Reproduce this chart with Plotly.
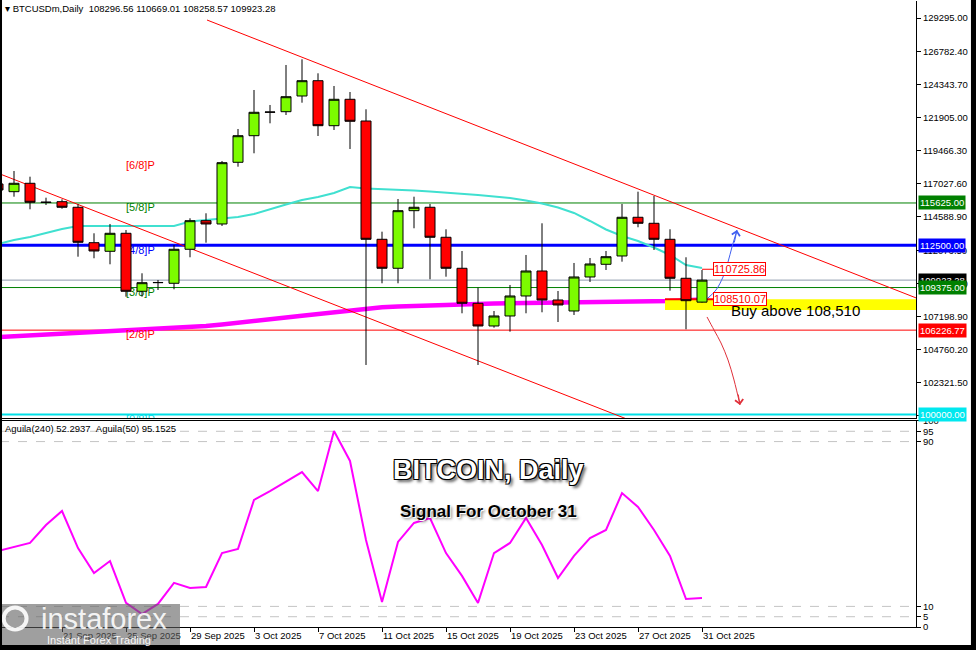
import plotly.graph_objects as go
import pandas as pd

# ---------------- data ----------------
dates = pd.date_range("2025-09-17", "2025-10-31", freq="D")

open_ = [117028, 116459, 117079, 115697, 115720, 115306, 112690, 112054, 113384, 109098,
         109734, 109689, 112202, 114316, 114072, 118631, 120597, 122348, 122371, 123531,
         124662, 121336, 123287, 121683, 112941, 110798, 115055, 115306, 113089, 110798,
         108211, 106534, 107273, 108751, 110598, 108455, 107642, 110155, 111093, 111707,
         114567, 114123, 112941, 110059, 108296.56]
high = [117323, 117988, 117567, 116015, 115897, 115527, 113384, 114072, 113628, 110428,
        109933, 112520, 114493, 114862, 118727, 121092, 123974, 122866, 125822, 126243,
        125208, 124270, 123826, 122548, 113503, 115919, 116089, 115550, 113680, 112076,
        109364, 107642, 109564, 111781, 114123, 109120, 111190, 111559, 112076, 115550,
        116459, 116141, 113680, 111611, 110669.01]
low = [116363, 116089, 115158, 115476, 115202, 111655, 111537, 111093, 108699, 108699,
       109194, 109246, 111611, 112690, 113924, 118306, 119296, 121513, 122127, 123036,
       120575, 121018, 119614, 103652, 109689, 109689, 113754, 109985, 110177, 107472,
       103652, 106408, 106113, 107472, 107546, 106829, 107347, 109785, 110672, 111286,
       113828, 112150, 109143, 106290, 108258.57]
close = [116584, 117079, 115675, 115660, 115306, 112719, 112076, 113384, 109098, 109734,
         109748, 112202, 114316, 114072, 118602, 120597, 122326, 122334, 123479, 124662,
         121336, 123287, 121661, 112941, 110798, 115055, 115306, 113089, 110798, 108211,
         106534, 107273, 108751, 110598, 108455, 108086, 110155, 111116, 111655, 114567,
         114123, 112941, 110059, 108404, 109923.28]

ma_fast = [112594, 112889, 113111, 113407, 113702, 113924, 113924, 113924, 113924, 113887,
           113887, 113924, 114256, 114367, 114441, 114589, 114811, 115180, 115513, 115845,
           116067, 116363, 116806, 116695, 116658, 116584, 116547, 116473, 116399, 116326,
           116215, 116104, 115993, 115808, 115587, 115291, 114885, 114293, 113665, 113185,
           112815, 112335, 111781, 111042, 110820]
ma_slow = [105714, 105773, 105832, 105891, 105950, 106009, 106068, 106127, 106187, 106246,
           106305, 106364, 106423, 106534, 106645, 106756, 106889, 107022, 107155, 107288,
           107421, 107554, 107701, 107849, 107923, 107982, 108034, 108078, 108115, 108145,
           108167, 108189, 108204, 108211, 108219, 108226, 108234, 108248, 108263, 108285,
           108307, 108344, 108389, 108440, 108492]
aguila = [36.9, 38.8, 40.8, 49.5, 56.3, 38.3, 26.2, 32.0, 11.7, 6.3,
          11.2, 21.4, 18.9, 19.4, 35.9, 37.9, 61.7, 66.0, 70.4, 75.2,
          66.0, 95.1, 80.6, 42.2, 12.1, 41.3, 50.5, 52.9, 35.9, 24.8,
          11.7, 35.9, 40.8, 52.9, 39.8, 23.8, 34.5, 43.2, 47.1, 65.0,
          58.3, 47.1, 34.5, 13.6, 14.1]

level_prices = [115625.00, 112500.00, 109923.28, 109375.00, 106226.77, 100000.00]
murrey_levels = [118750, 115625, 112500, 109375, 106250, 100000]
murrey_names = ["[6/8]P", "[5/8]P", "[4/8]P", "[3/8]P", "[2/8]P", "[0/8]P"]
murrey_date = "2025-09-25"

price_ticks = [129295.00, 126782.40, 124343.70, 121905.00, 119466.30, 117027.60, 114588.90,
               112076.50, 109637.80, 107198.90, 104760.20, 102321.50, 99882.80]
osc_ticks = [100, 95, 90, 10, 5, 0]
osc_dashes = [95, 90, 10, 5]

upper_trend_x = ["2025-09-30 01:30", "2025-11-13 09:00"]
upper_trend_y = [129147, 108610]
lower_trend_x = ["2025-09-17 03:00", "2025-10-27 03:00"]
lower_trend_y = [117767, 99277]

buy_zone_x = ["2025-10-28 16:30", "2025-11-14 00:00"]
buy_zone_y = [108510.07, 107716]
marked_prices = [110725.86, 108510.07]
marked_from = ["2025-10-31 00:00", "2025-10-28 16:30"]
marked_to = "2025-10-31 16:30"
buy_text = "Buy above 108,510"
buy_text_pos = ("2025-11-01 16:30", 107642)

up_arrow_x = ["2025-10-31 09:00", "2025-10-31 21:00", "2025-11-01 07:30",
              "2025-11-01 15:00", "2025-11-01 21:00", "2025-11-02 04:30"]
up_arrow_y = [108603, 109194, 110155, 111264, 112372, 113628]
down_arrow_x = ["2025-10-31 07:30", "2025-10-31 18:00", "2025-11-01 04:30",
                "2025-11-01 15:00", "2025-11-02 00:00", "2025-11-02 09:00"]
down_arrow_y = [107199, 106238, 105277, 104021, 102543, 100695]

x_range = ["2025-09-17 03:00", "2025-11-13 09:00"]
y_range = [99735, 130551]

header = "\u25be BTCUSDm,Daily\u00a0\u00a0108296.56 110669.01 108258.57 109923.28"
osc_header = "Aguila(240) 52.2937\u00a0\u00a0Aguila(50) 95.1525"

# ---------------- styles ----------------
FONT = "Liberation Sans"
level_colors = ["#008000", "#0000ff", "#8e9aae", "#008000", "#ff0000", "#00e0e8"]
level_widths = [1, 3, 1, 1, 1, 2]
label_bgs = ["#008000", "#0000ff", "#000000", "#008000", "#ff0000", "#00e8ef"]
murrey_colors = ["#ff0000", "#008000", "#0000ff", "#008000", "#ff0000", "#00e0e8"]

fig = go.Figure()

# base subplot (under candles)
fig.add_trace(go.Scatter(x=dates, y=ma_fast, mode="lines", line=dict(color="#40e0d0", width=2),
                         hoverinfo="skip", xaxis="x", yaxis="y"))
fig.add_trace(go.Scatter(x=dates, y=ma_slow, mode="lines", line=dict(color="#ff00ff", width=4.5),
                         hoverinfo="skip", xaxis="x", yaxis="y"))
fig.add_trace(go.Scatter(x=upper_trend_x, y=upper_trend_y, mode="lines",
                         line=dict(color="#ff0000", width=1), hoverinfo="skip", xaxis="x", yaxis="y"))
fig.add_trace(go.Scatter(x=lower_trend_x, y=lower_trend_y, mode="lines",
                         line=dict(color="#ff0000", width=1), hoverinfo="skip", xaxis="x", yaxis="y"))
fig.add_trace(go.Scatter(x=[murrey_date] * len(murrey_levels), y=murrey_levels, mode="text",
                         text=murrey_names, textposition="bottom right",
                         textfont=dict(family=FONT, size=11, color=murrey_colors),
                         hoverinfo="skip", xaxis="x", yaxis="y"))
fig.add_trace(go.Scatter(x=[buy_zone_x[0], buy_zone_x[1], buy_zone_x[1], buy_zone_x[0]],
                         y=[buy_zone_y[0], buy_zone_y[0], buy_zone_y[1], buy_zone_y[1]],
                         fill="toself", fillcolor="#ffff00", mode="lines", line=dict(width=0),
                         hoverinfo="skip", xaxis="x", yaxis="y"))
for p, x0, w in zip(marked_prices, marked_from, [1, 2]):
    fig.add_trace(go.Scatter(x=[x0, marked_to], y=[p, p], mode="lines",
                             line=dict(color="#ff0000", width=w), hoverinfo="skip",
                             xaxis="x", yaxis="y"))

# overlay subplot (candles and arrows on top)
fig.add_trace(go.Candlestick(
    x=dates, open=open_, high=high, low=low, close=close,
    increasing=dict(line=dict(color="#000000", width=1), fillcolor="#7cfc00"),
    decreasing=dict(line=dict(color="#000000", width=1), fillcolor="#ff0000"),
    whiskerwidth=0, hoverinfo="skip", xaxis="x3", yaxis="y3"))
fig.add_trace(go.Scatter(x=up_arrow_x, y=up_arrow_y, mode="lines",
                         line=dict(color="#3f5ff0", width=1, shape="spline"),
                         hoverinfo="skip", xaxis="x3", yaxis="y3"))
fig.add_trace(go.Scatter(x=down_arrow_x, y=down_arrow_y, mode="lines",
                         line=dict(color="#e0303a", width=1, shape="spline"),
                         hoverinfo="skip", xaxis="x3", yaxis="y3"))

# oscillator
fig.add_trace(go.Scatter(x=dates, y=aguila, mode="lines", line=dict(color="#ff00ff", width=2),
                         hoverinfo="skip", xaxis="x2", yaxis="y2"))

shapes = []
for p, c, w in zip(level_prices, level_colors, level_widths):
    shapes.append(dict(type="line", xref="paper", x0=0, x1=1, yref="y", y0=p, y1=p,
                       line=dict(color=c, width=w), layer="below"))
for v in osc_dashes:
    shapes.append(dict(type="line", xref="paper", x0=0, x1=1, yref="y2", y0=v, y1=v,
                       line=dict(color="#c4c4c4", width=1, dash="dash"), layer="below"))
# watermark and window frame
shapes.append(dict(type="rect", xref="paper", yref="paper", x0=0, x1=0.1965, y0=-0.0304, y1=0.0367,
                   fillcolor="rgba(95,95,95,0.6)", line=dict(width=0), layer="above"))
shapes.append(dict(type="circle", xref="paper", yref="paper", x0=0.004, x1=0.029, y0=-0.004, y1=0.031,
                   line=dict(color="rgba(255,255,255,0.9)", width=4), layer="above"))
shapes.append(dict(type="rect", xref="paper", yref="paper", x0=-0.01, x1=0.0022, y0=-0.1, y1=1.1,
                   fillcolor="#000000", line=dict(width=0), layer="above"))
shapes.append(dict(type="rect", xref="paper", yref="paper", x0=-0.01, x1=1.2, y0=-0.0288, y1=-0.1,
                   fillcolor="#000000", line=dict(width=0), layer="above"))
shapes.append(dict(type="rect", xref="paper", yref="paper", x0=1.0600, x1=1.2, y0=-0.1, y1=1.1,
                   fillcolor="#000000", line=dict(width=0), layer="above"))

annotations = []
for p, bg in zip(level_prices, label_bgs):
    annotations.append(dict(xref="paper", x=1, xanchor="left", xshift=2, yref="y", y=p,
                            yanchor="middle", text=f"{p:.2f}", showarrow=False,
                            font=dict(family=FONT, size=9.5, color="#ffffff"),
                            bgcolor=bg, borderpad=1))
for p in marked_prices:
    annotations.append(dict(xref="x", x=marked_to, xanchor="left", yref="y", y=p,
                            yanchor="middle", text=f"{p:.2f}", showarrow=False,
                            font=dict(family=FONT, size=11, color="#ff0000"),
                            bgcolor="#ffffff", bordercolor="#ff0000", borderwidth=1, borderpad=0))
annotations.append(dict(xref="x", x=buy_text_pos[0], xanchor="left", yref="y", y=buy_text_pos[1],
                        yanchor="middle", text=buy_text, showarrow=False,
                        font=dict(family=FONT, size=15, color="#000000")))
annotations.append(dict(xref="x", x=up_arrow_x[-1], yref="y", y=up_arrow_y[-1], text="",
                        showarrow=True, arrowhead=4, arrowsize=1.6, arrowwidth=1,
                        arrowcolor="#3f5ff0", ax=-3, ay=14, standoff=0))
annotations.append(dict(xref="x", x=down_arrow_x[-1], yref="y", y=down_arrow_y[-1], text="",
                        showarrow=True, arrowhead=4, arrowsize=1.6, arrowwidth=1,
                        arrowcolor="#e0303a", ax=-2, ay=-12, standoff=0))
annotations.append(dict(xref="paper", x=0.003, xanchor="left", yref="paper", y=1, yanchor="top",
                        yshift=0, text=header, showarrow=False,
                        font=dict(family=FONT, size=9.5, color="#000000")))
annotations.append(dict(xref="paper", x=0.003, xanchor="left", yref="paper", y=0.3275,
                        yanchor="top", yshift=1, text=osc_header, showarrow=False,
                        font=dict(family=FONT, size=9.5, color="#000000")))
annotations.append(dict(xref="paper", x=0.5328, xanchor="center", yref="paper", y=0.2508,
                        yanchor="middle", text="BITCOIN, Daily", showarrow=False,
                        font=dict(family=FONT, size=27, color="#ffffff", weight="bold",
                                  shadow="-1px -1px 0 #000, 1px -1px 0 #000, -1px 1px 0 #000, "
                                         "1px 1px 0 #000, 3px 3px 3px rgba(0,0,0,0.6)")))
annotations.append(dict(xref="paper", x=0.5328, xanchor="center", yref="paper", y=0.1853,
                        yanchor="middle", text="Signal For October 31", showarrow=False,
                        font=dict(family=FONT, size=17, color="#000000", weight="bold",
                                  shadow="1px 1px 0 #fff, 2px 2px 3px rgba(0,0,0,0.5)")))
annotations.append(dict(xref="paper", x=0.1135, xanchor="center", yref="paper", y=0.0128,
                        yanchor="middle", text="instaforex", showarrow=False,
                        font=dict(family=FONT, size=29, color="rgba(255,255,255,0.9)")))
annotations.append(dict(xref="paper", x=0.108, xanchor="center", yref="paper", y=-0.0208,
                        yanchor="middle", text="Instant Forex Trading", showarrow=False,
                        font=dict(family=FONT, size=11, color="rgba(255,255,255,0.95)")))

tick_dates = list(dates[::4])
tick_text = [f"{d.day} {d.strftime('%b %Y')}" for d in tick_dates]

axis_font = dict(family=FONT, size=9.5, color="#000000")
fig.update_layout(
    width=976, height=650,
    margin=dict(l=0, r=60, t=1, b=23),
    paper_bgcolor="#ffffff", plot_bgcolor="#ffffff",
    showlegend=False, boxgap=0.375, boxgroupgap=0,
    font=dict(family=FONT, size=9.5, color="#000000"),
    xaxis=dict(domain=[0, 1], anchor="y", type="date", range=x_range, showticklabels=False,
               ticks="", showgrid=False, zeroline=False, showline=True, linecolor="#000000",
               linewidth=1, rangeslider=dict(visible=False), fixedrange=True, automargin=False),
    yaxis=dict(domain=[0.3339, 1], anchor="x", side="right", range=y_range,
               tickvals=price_ticks, ticktext=[f"{v:.2f}" for v in price_ticks],
               ticks="outside", ticklen=4, tickcolor="#000000", tickfont=axis_font,
               showgrid=False, zeroline=False, showline=True, linecolor="#000000",
               linewidth=1, fixedrange=True, automargin=False),
    xaxis3=dict(overlaying="x", anchor="y3", type="date", range=x_range, visible=False,
                showgrid=False, rangeslider=dict(visible=False), fixedrange=True),
    yaxis3=dict(overlaying="y", anchor="x3", side="right", range=y_range, visible=False,
                showgrid=False, fixedrange=True),
    xaxis2=dict(domain=[0, 1], anchor="y2", type="date", range=x_range,
                tickvals=tick_dates, ticktext=tick_text, ticks="outside", ticklen=4,
                tickcolor="#000000", ticklabelposition="outside right", tickfont=axis_font,
                showgrid=False, zeroline=False, showline=True, mirror=True,
                linecolor="#000000", linewidth=1, rangeslider=dict(visible=False),
                fixedrange=True, automargin=False),
    yaxis2=dict(domain=[0, 0.3291], anchor="x2", side="right", range=[0, 100],
                tickvals=osc_ticks, ticktext=[str(v) for v in osc_ticks],
                ticks="outside", ticklen=4, tickcolor="#000000", tickfont=axis_font,
                showgrid=False, zeroline=False, showline=True, linecolor="#000000",
                linewidth=1, fixedrange=True, automargin=False),
    shapes=shapes,
    annotations=annotations,
)

fig.write_html("out.html", config={"displayModeBar": False},
               post_script="document.body.style.margin='0';document.body.style.padding='0';")
